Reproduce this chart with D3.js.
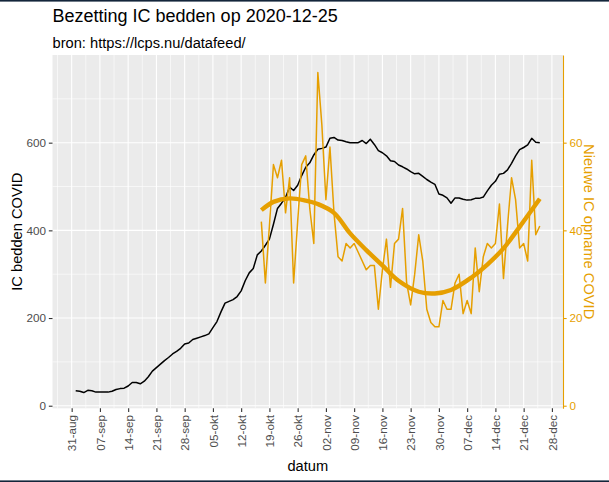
<!DOCTYPE html>
<html><head><meta charset="utf-8">
<script src="https://cdn.jsdelivr.net/npm/d3@7/dist/d3.min.js"></script>
<style>
body{margin:0;background:#fff;}
svg{display:block;font-family:"Liberation Sans",Arial,Helvetica,sans-serif;}
</style>
</head><body>
<svg id="chart" width="609" height="482"></svg>
<script>
// ---- data ----
const titleText = "Bezetting IC bedden op 2020-12-25";
const subtitleText = "bron: https://lcps.nu/datafeed/";
const xTitle = "datum";
const yLeftTitle = "IC bedden COVID";
const yRightTitle = "Nieuwe IC opname COVID";

// IC beds occupied, daily from 2020-09-01
const bedsStart = "2020-09-01";
const bedsValues = [
  34,33,30,35,34,31,31,31,31,33,
  37,39,40,45,53,53,50,56,66,79,
  87,95,103,110,118,124,131,141,143,151,
  154,157,160,164,178,192,214,234,238,242,
  249,262,285,303,313,344,353,366,380,414,
  450,462,475,499,491,503,525,544,554,572,
  585,587,590,610,612,606,605,602,600,600,
  600,605,598,608,596,582,577,570,559,557,
  549,545,540,534,529,530,523,516,510,505,
  483,480,474,462,474,474,471,469,470,473,
  473,476,490,503,512,528,530,538,553,570,
  584,589,595,610,601,600
];

// New IC admissions, daily from 2020-10-17
const admStart = "2020-10-17";
const admValues = [
  42,28,41,55,52,56,44,52,28,42,
  55,57,45,37,76,64,47,59,44,34,
  33,37,36,37,35,33,31,32,32,22,
  31,38,27,37,38,45,28,23,30,39,
  33,22,19,18,18,24,22,22,28,30,
  21,24,21,36,26,34,37,36,37,46,
  29,41,52,47,36,37,33,56,39,41
];

// smoothed admissions trend, dates & values
const smoothDates = ["2020-10-17","2020-10-20","2020-10-24","2020-10-28","2020-10-31","2020-11-04","2020-11-08","2020-11-12","2020-11-16","2020-11-20","2020-11-25","2020-11-29","2020-12-03","2020-12-08","2020-12-12","2020-12-16","2020-12-20","2020-12-25"];
const smoothValues = [44.6,46.5,47.3,46.8,46.0,44.0,39.3,35.5,32.0,28.5,26.0,25.6,26.4,29.2,32.2,35.9,40.8,47.2];

const xTickDates = ["2020-08-31","2020-09-07","2020-09-14","2020-09-21","2020-09-28","2020-10-05","2020-10-12","2020-10-19","2020-10-26","2020-11-02","2020-11-09","2020-11-16","2020-11-23","2020-11-30","2020-12-07","2020-12-14","2020-12-21","2020-12-28"];
const xTickLabels = ["31-aug","07-sep","14-sep","21-sep","28-sep","05-okt","12-okt","19-okt","26-okt","02-nov","09-nov","16-nov","23-nov","30-nov","07-dec","14-dec","21-dec","28-dec"];
const yLeftTicks = [0,200,400,600];
const yLeftMinor = [100,300,500,700];
const yRightTicks = [0,20,40,60];

// ---- layout ----
const ORANGE = "#E69F00";
const P = {left:52.5, right:563, top:55, bottom:408.3};
const parse = d3.timeParse("%Y-%m-%d");

const svg = d3.select("#chart");
svg.append("rect").attr("width",609).attr("height",482).attr("fill","#fff");
svg.append("rect").attr("x",0).attr("y",0).attr("width",609).attr("height",1.6).attr("fill","#13253a");
svg.append("rect").attr("x",0).attr("y",480.4).attr("width",609).attr("height",1.6).attr("fill","#13253a");

const beds = bedsValues.map((v,i)=>({date:d3.timeDay.offset(parse(bedsStart),i), v}));
const adm = admValues.map((v,i)=>({date:d3.timeDay.offset(parse(admStart),i), v}));
const smooth = smoothDates.map((d,i)=>({date:parse(d), v:smoothValues[i]}));

const ext = d3.extent(beds, d=>d.date);
const span = ext[1]-ext[0];
const x = d3.scaleTime()
  .domain([new Date(+ext[0]-0.05*span), new Date(+ext[1]+0.05*span)])
  .range([P.left, P.right]);
const y = d3.scaleLinear().domain([-5.9, 800]).range([P.bottom, P.top]);
const yR = d3.scaleLinear().domain([-0.59, 80]).range([P.bottom, P.top]);

// panel
svg.append("rect").attr("x",P.left).attr("y",P.top)
  .attr("width",P.right-P.left).attr("height",P.bottom-P.top).attr("fill","#EBEBEB");

const grid = svg.append("g");
const tickDates = xTickDates.map(parse);
const minorX = [d3.timeHour.offset(tickDates[0], -84)].concat(tickDates.map(d=>d3.timeHour.offset(d,84)));
minorX.filter(d=>x(d)>P.left && x(d)<P.right).forEach(d=>{
  grid.append("line").attr("x1",x(d)).attr("x2",x(d)).attr("y1",P.top).attr("y2",P.bottom)
    .attr("stroke","#fff").attr("stroke-width",0.6);
});
yLeftMinor.forEach(v=>{
  grid.append("line").attr("x1",P.left).attr("x2",P.right).attr("y1",y(v)).attr("y2",y(v))
    .attr("stroke","#fff").attr("stroke-width",0.6);
});
tickDates.forEach(d=>{
  grid.append("line").attr("x1",x(d)).attr("x2",x(d)).attr("y1",P.top).attr("y2",P.bottom)
    .attr("stroke","#fff").attr("stroke-width",1.1);
});
yLeftTicks.forEach(v=>{
  grid.append("line").attr("x1",P.left).attr("x2",P.right).attr("y1",y(v)).attr("y2",y(v))
    .attr("stroke","#fff").attr("stroke-width",1.1);
});

// lines
const line = d3.line().x(d=>x(d.date)).y(d=>y(d.v));
const lineR = d3.line().x(d=>x(d.date)).y(d=>yR(d.v));
svg.append("path").datum(beds).attr("d",line).attr("fill","none")
  .attr("stroke","#000").attr("stroke-width",1.5).attr("stroke-linejoin","round");
svg.append("path").datum(adm).attr("d",lineR).attr("fill","none")
  .attr("stroke",ORANGE).attr("stroke-width",1.5).attr("stroke-linejoin","round");
svg.append("path").datum(smooth).attr("d",lineR.curve(d3.curveCatmullRom)).attr("fill","none")
  .attr("stroke",ORANGE).attr("stroke-width",4.4).attr("stroke-linecap","butt");

// axes
const font = 11.7;
const ax = svg.append("g").attr("transform",`translate(0,${P.bottom})`)
  .call(d3.axisBottom(x).tickValues(tickDates).tickFormat((d,i)=>xTickLabels[i]).tickSizeInner(3.67).tickSizeOuter(0).tickPadding(2.93));
ax.select(".domain").remove();
ax.selectAll(".tick line").attr("stroke","#333").attr("stroke-width",1.1);
ax.selectAll(".tick text").attr("fill","#4D4D4D").attr("font-size",font)
  .attr("x",-6.6).attr("y",0).attr("dy","0.35em").attr("transform","rotate(-90)")
  .style("text-anchor","end").style("font-family","Liberation Sans, Arial, sans-serif");

const al = svg.append("g").attr("transform",`translate(${P.left},0)`)
  .call(d3.axisLeft(y).tickValues(yLeftTicks).tickSizeInner(3.67).tickSizeOuter(0).tickPadding(2.93));
al.select(".domain").remove();
al.selectAll(".tick line").attr("stroke","#333").attr("stroke-width",1.1);
al.selectAll(".tick text").attr("fill","#4D4D4D").attr("font-size",font)
  .style("font-family","Liberation Sans, Arial, sans-serif");

const ar = svg.append("g").attr("transform",`translate(${P.right},0)`)
  .call(d3.axisRight(yR).tickValues(yRightTicks).tickSizeInner(3.67).tickSizeOuter(0).tickPadding(2.93));
ar.select(".domain").attr("stroke",ORANGE).attr("stroke-width",1.1);
ar.selectAll(".tick line").attr("stroke",ORANGE).attr("stroke-width",1.1);
ar.selectAll(".tick text").attr("fill",ORANGE).attr("font-size",font)
  .style("font-family","Liberation Sans, Arial, sans-serif");

// titles
svg.append("text").attr("x",P.left).attr("y",21.5).attr("font-size",18).attr("fill","#000").text(titleText);
svg.append("text").attr("x",P.left).attr("y",47.5).attr("font-size",14.67).attr("fill","#000").text(subtitleText);
svg.append("text").attr("x",(P.left+P.right)/2).attr("y",471).attr("font-size",14.67)
  .attr("text-anchor","middle").attr("fill","#000").text(xTitle);
svg.append("text").attr("transform",`translate(21.5,${(P.top+P.bottom)/2}) rotate(-90)`)
  .attr("font-size",14.67).attr("text-anchor","middle").attr("fill","#000").text(yLeftTitle);
svg.append("text").attr("transform",`translate(584,${(P.top+P.bottom)/2}) rotate(90)`)
  .attr("font-size",14.67).attr("text-anchor","middle").attr("fill",ORANGE).text(yRightTitle);
</script>
</body></html>
